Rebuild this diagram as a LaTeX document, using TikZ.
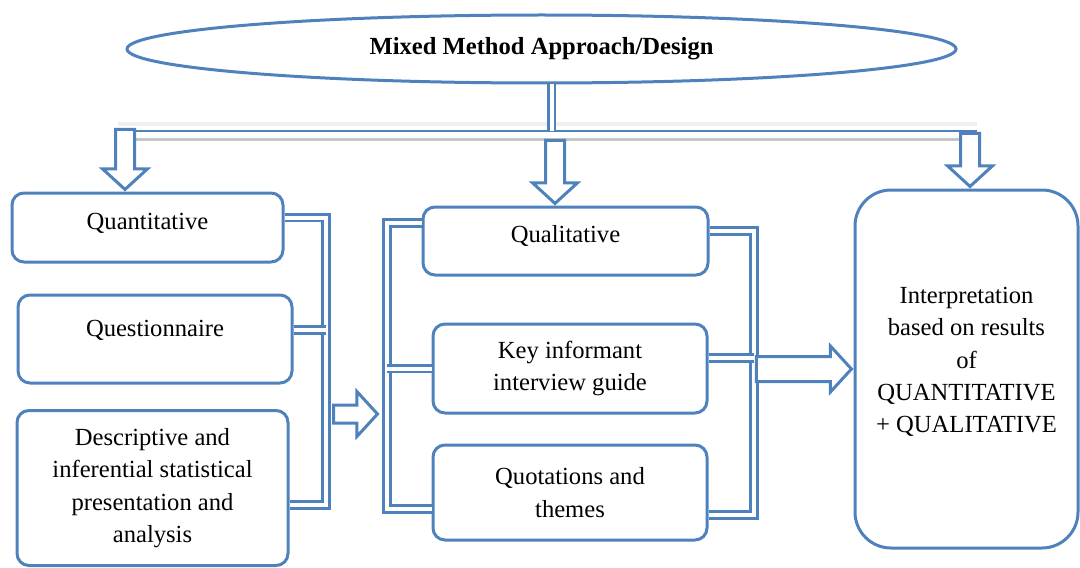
\documentclass[tikz,border=0pt]{standalone}
\usepackage{fontspec}
\setmainfont{Liberation Serif}
\usepackage{tikz}
\usetikzlibrary{shapes.geometric,shapes.arrows}
\definecolor{mblue}{RGB}{79,129,189}
\newcommand{\bcol}{mblue}

\begin{document}
\begin{tikzpicture}[x=0.5pt, y=-0.5pt,
    every node/.style={font=\fontsize{12.3pt}{16.2pt}\selectfont},
    box/.style={draw=\bcol, line width=1.5pt, rounded corners=6pt, align=center, inner sep=0pt},
    pipe/.style={draw=\bcol, line width=1.3pt, double=white, double distance=2pt},
    blockarrow/.style={draw=\bcol, fill=white, line width=1.5pt, single arrow,
      single arrow head extend=6.5pt, single arrow tip angle=95, inner sep=0pt, inner ysep=4pt}]

    \useasboundingbox (0,0) rectangle (1080,567);

    \node[draw=\bcol, line width=1.5pt, ellipse, minimum width=414.5pt, minimum height=34pt,
      inner sep=0pt, font=\bfseries\fontsize{12.3pt}{16pt}\selectfont] (title) at (541.5,49) {Mixed Method Approach/Design};

    % barre horizontale
    \coordinate (hbl) at (118,131);
    \coordinate (hbr) at (977,131);
    \fill[gray!12] (118,122) rectangle (977,126);
    \draw[gray!45, line width=1.5pt] (135,139) -- (977,139);
    \draw[\bcol, line width=1.2pt] (hbl) -- (hbr);
    \coordinate (tdrop) at ([xshift=5pt]title.south);
    \draw[pipe] (tdrop) -- (tdrop |- hbl);

    \node[box, minimum width=135.5pt, minimum height=34.5pt, text depth=6pt] (quant) at (147.5,227.5) {Quantitative};
    \node[box, minimum width=137pt, minimum height=44pt, text depth=11pt] (quest) at (155,339) {Questionnaire};
    \node[box, minimum width=135.5pt, minimum height=77.5pt] (desc) at (152.5,488) {Descriptive and\\ inferential statistical\\ presentation and\\ analysis};

    \node[box, minimum width=142.5pt, minimum height=34pt, text depth=7pt] (qual) at (565.5,241) {Qualitative};
    \node[box, minimum width=137pt, minimum height=44.5pt] (key) at (570,368.5) {Key informant\\ interview guide};
    \node[box, minimum width=137pt, minimum height=47.5pt] (quot) at (570,492.5) {Quotations and\\ themes};

    \node[box, rounded corners=18pt, minimum width=111.5pt, minimum height=179pt] (interp) at (966.5,369) {};
    \node[align=center, inner sep=0pt] (interptxt) at ([yshift=3.5pt]interp.center) {Interpretation\\ based on results\\ of\\ QUANTITATIVE\\ + QUALITATIVE};

    % accolades gauche
    \coordinate (lbot) at (326,505);
    \draw[pipe] ([yshift=5pt]quant.east) -| (lbot) -- ([yshift=-8.5pt]desc.east);
    \coordinate (qs) at ([yshift=4.5pt]quest.east);
    \draw[pipe] (qs) -- (qs -| lbot);

    % accolades milieu
    \coordinate (mbot) at (387,509);
    \draw[pipe] ([yshift=9pt]qual.west) -| (mbot) -- ([yshift=-8.25pt]quot.west);
    \draw[pipe] (key.west) -- (key.west -| mbot);

    \coordinate (rbot) at (754,515);
    \draw[pipe] ([yshift=5pt]qual.east) -| (rbot) -- ([yshift=-11.25pt]quot.east);
    \coordinate (ks) at ([yshift=5.25pt]key.east);
    \draw[pipe] (ks) -- (ks -| rbot);

    % fleches
    \node[blockarrow, rotate=-90, minimum height=30pt, anchor=tip] (aquant) at ([xshift=-11.25pt]quant.north) {};
    \node[blockarrow, rotate=-90, minimum height=31.5pt, anchor=tip] (aqual) at ([xshift=-5.25pt]qual.north) {};
    \node[blockarrow, rotate=-90, minimum height=26.5pt, anchor=tip] (ainterp) at ([xshift=1.75pt]interp.north) {};
    \node[blockarrow, minimum height=22pt, anchor=tail, inner ysep=3.75pt, single arrow head extend=6.75pt] (amid) at (332,414) {};
    \node[blockarrow, minimum height=47.5pt, anchor=tip, inner ysep=5.5pt, single arrow head extend=5.25pt] (aright) at (interp.west) {};

\end{tikzpicture}
\end{document}
